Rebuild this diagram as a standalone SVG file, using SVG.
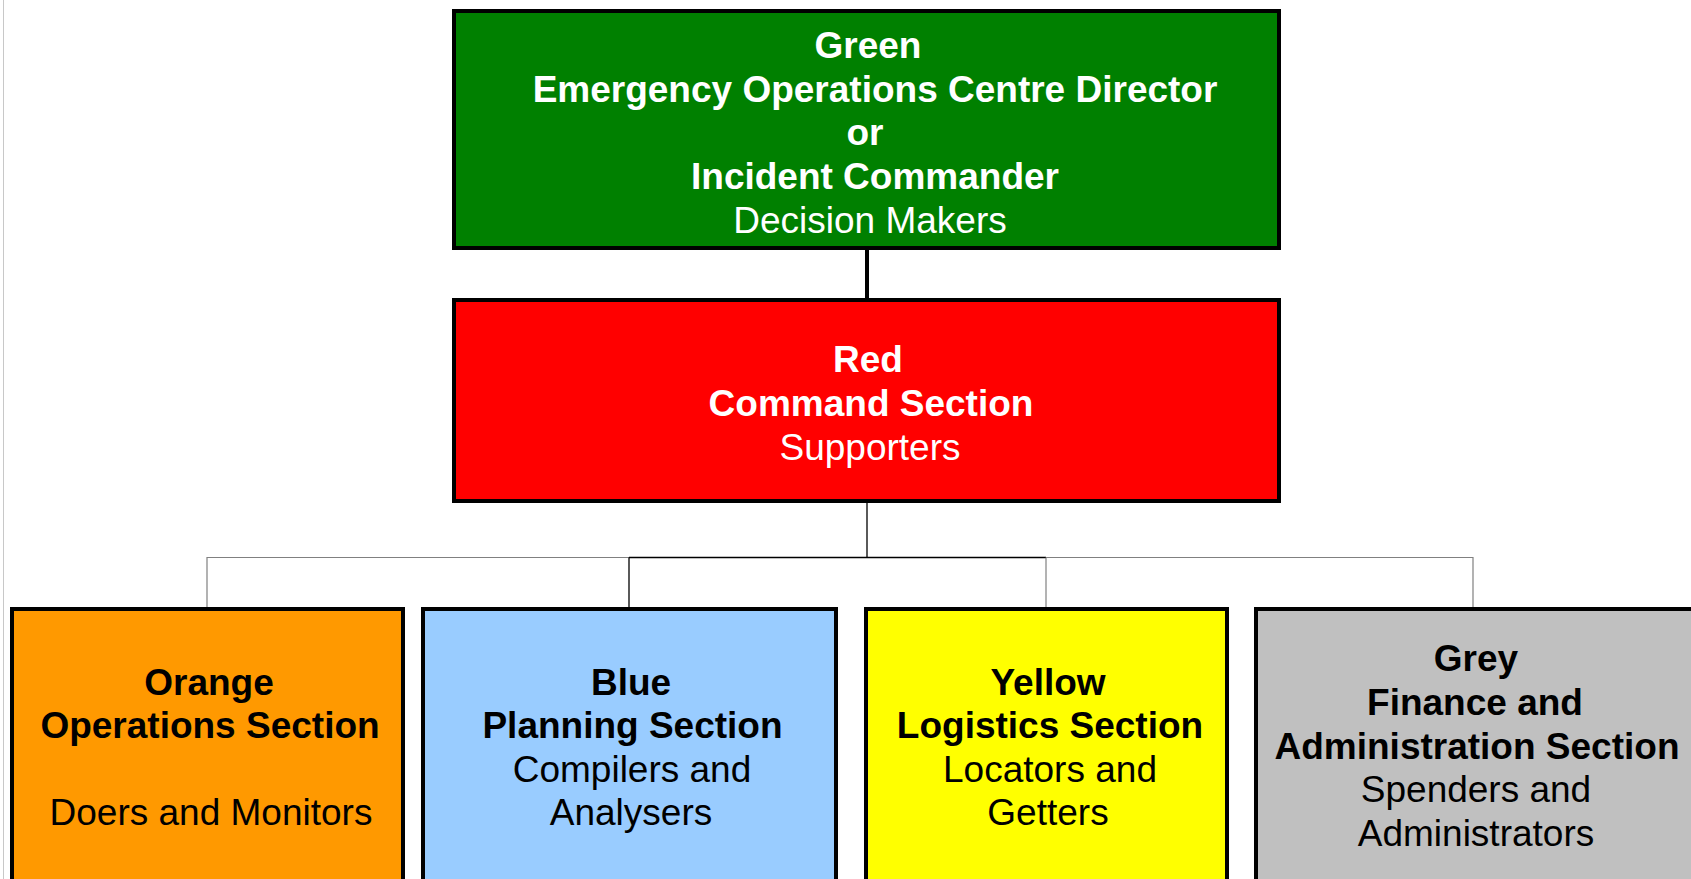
<svg xmlns="http://www.w3.org/2000/svg" width="1691" height="879" viewBox="0 0 1691 879">
<style>
.box{stroke:#000;stroke-width:4}
text{font-family:"Liberation Sans",Arial,sans-serif;font-size:37px;text-anchor:middle}
.b{font-weight:bold}
.w{fill:#fff}
.k{fill:#000}
.thin{stroke:#000;stroke-width:1.3;fill:none}
.grey{stroke:#808080;stroke-width:1.2;fill:none}
</style>
<rect width="1691" height="879" fill="#fff"/>
<line x1="3.5" y1="0" x2="3.5" y2="879" stroke="#c8c8c8" stroke-width="1"/>
<g id="connectors">
<line x1="867" y1="248" x2="867" y2="300" stroke="#000" stroke-width="4"/>
<line class="thin" x1="867" y1="501" x2="867" y2="557.5"/>
<line class="thin" x1="629" y1="557.5" x2="1046" y2="557.5"/>
<polyline class="grey" points="629,557.5 207,557.5 207,608"/>
<polyline class="grey" points="1046,557.5 1473,557.5 1473,608"/>
<line class="thin" x1="629" y1="557.5" x2="629" y2="608"/>
<line class="grey" x1="1046" y1="557.5" x2="1046" y2="608"/>
</g>
<g id="green">
<rect class="box" x="454" y="11" width="825" height="237" fill="#008000"/>
<text class="b w" x="868" y="58">Green</text>
<text class="b w" x="875" y="101.5">Emergency Operations Centre Director</text>
<text class="b w" x="865" y="145">or</text>
<text class="b w" x="875" y="189">Incident Commander</text>
<text class="w" x="870" y="232.5">Decision Makers</text>
</g>
<g id="red">
<rect class="box" x="454" y="300" width="825" height="201" fill="#ff0000"/>
<text class="b w" x="868" y="372">Red</text>
<text class="b w" x="871" y="416">Command Section</text>
<text class="w" x="870" y="460">Supporters</text>
</g>
<g id="orange">
<rect class="box" x="12" y="609" width="391" height="280" fill="#ff9900"/>
<text class="b k" x="209" y="694.5">Orange</text>
<text class="b k" x="210" y="738">Operations Section</text>
<text class="k" x="211" y="825">Doers and Monitors</text>
</g>
<g id="blue">
<rect class="box" x="423" y="609" width="413" height="280" fill="#99ccff"/>
<text class="b k" x="631" y="694.5">Blue</text>
<text class="b k" x="632.5" y="738">Planning Section</text>
<text class="k" x="632" y="781.5">Compilers and</text>
<text class="k" x="631" y="825">Analysers</text>
</g>
<g id="yellow">
<rect class="box" x="866" y="609" width="361" height="280" fill="#ffff00"/>
<text class="b k" x="1048" y="694.5">Yellow</text>
<text class="b k" x="1050" y="738">Logistics Section</text>
<text class="k" x="1050" y="781.5">Locators and</text>
<text class="k" x="1048" y="825">Getters</text>
</g>
<g id="grey">
<rect class="box" x="1256" y="609" width="450" height="280" fill="#c0c0c0"/>
<text class="b k" x="1476" y="671">Grey</text>
<text class="b k" x="1475" y="715">Finance and</text>
<text class="b k" x="1477" y="758.5">Administration Section</text>
<text class="k" x="1476" y="802">Spenders and</text>
<text class="k" x="1476" y="846">Administrators</text>
</g>
</svg>
